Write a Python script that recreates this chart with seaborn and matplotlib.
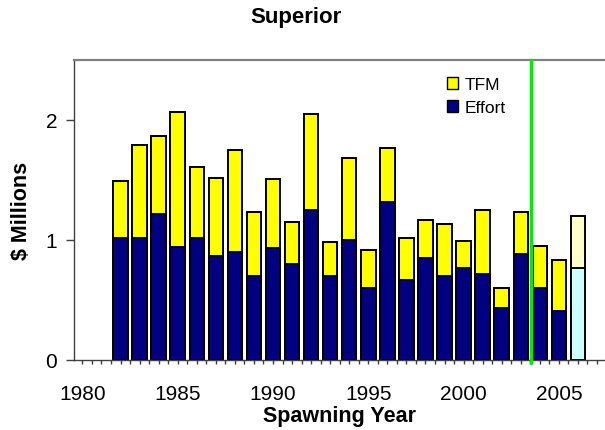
import matplotlib
matplotlib.use("Agg")
import matplotlib.pyplot as plt
from matplotlib.patches import Patch
from matplotlib.ticker import MultipleLocator
import pandas as pd
import seaborn as sns

# values ($ millions)
years = list(range(1982, 2007))
effort = [1.02, 1.02, 1.22, 0.94, 1.02, 0.87, 0.90, 0.70, 0.93, 0.80,
          1.25, 0.70, 1.00, 0.60, 1.32, 0.67, 0.85, 0.70, 0.77, 0.72,
          0.43, 0.88, 0.60, 0.41, 0.77]
tfm = [0.47, 0.77, 0.65, 1.13, 0.59, 0.65, 0.85, 0.53, 0.58, 0.35,
       0.80, 0.28, 0.68, 0.32, 0.45, 0.35, 0.32, 0.43, 0.22, 0.53,
       0.17, 0.35, 0.35, 0.42, 0.43]
status = ["actual"] * 24 + ["projected"]
cutoff_year = 2003.56

df = pd.DataFrame({"year": years, "effort": effort, "tfm": tfm, "status": status})
df["total"] = df["effort"] + df["tfm"]

sns.set_style("white")
plt.rcParams["font.family"] = ["Liberation Sans", "DejaVu Sans"]
plt.rcParams["text.color"] = "black"
plt.rcParams["axes.labelcolor"] = "black"
plt.rcParams["xtick.labelcolor"] = "black"
plt.rcParams["ytick.labelcolor"] = "black"

fig = plt.figure(figsize=(6.05, 4.31), dpi=100)
ax = fig.add_axes([74 / 605, 1 - 361 / 431, 531 / 605, 300 / 431])

# TFM stacked on top of effort: draw totals first, then effort over them
sns.barplot(data=df, x="year", y="total", hue="status", dodge=False,
            native_scale=True, width=0.76, legend=False, saturation=1,
            palette={"actual": "#ffff00", "projected": "#ffffcc"},
            edgecolor="black", linewidth=1.4, ax=ax)
sns.barplot(data=df, x="year", y="effort", hue="status", dodge=False,
            native_scale=True, width=0.76, legend=False, saturation=1,
            palette={"actual": "#000080", "projected": "#ccffff"},
            edgecolor="black", linewidth=1.4, ax=ax)

ax.axvline(cutoff_year, color="#00ee00", lw=2.5, ymin=-0.01, clip_on=False, zorder=5)

ax.set_xlim(1979.56, 2007.42)
ax.set_ylim(0, 2.5)
ax.set_yticks([0, 1, 2])
ax.xaxis.set_major_locator(MultipleLocator(5))
ax.xaxis.set_minor_locator(MultipleLocator(0.5))
ax.tick_params(axis="x", which="both", bottom=True, length=3, width=1,
               color="#404040", pad=14, labelsize=15)
ax.tick_params(axis="y", left=True, length=6, width=1, color="#404040",
               pad=6, labelsize=15)

for side in ["left", "bottom"]:
    ax.spines[side].set_color("#404040")
    ax.spines[side].set_linewidth(1)
ax.spines["top"].set_color("#808080")
ax.spines["top"].set_linewidth(1.6)
ax.spines["right"].set_visible(False)

ax.set_xlabel("Spawning Year", fontsize=15.5, fontweight="bold", labelpad=2)
ax.set_ylabel("$ Millions", fontsize=15.5, fontweight="bold", labelpad=10)
fig.suptitle("Superior", x=296 / 605, y=1 - 7 / 431, va="top",
             fontsize=16, fontweight="bold")

handles = [Patch(facecolor="#ffff00", edgecolor="black", label="TFM"),
           Patch(facecolor="#000080", edgecolor="black", label="Effort")]
fig.legend(handles=handles, loc="upper left", bbox_to_anchor=(447 / 605, 1 - 78 / 431),
           frameon=False, fontsize=12.5, handlelength=0.65, handleheight=0.65,
           handletextpad=0.35, labelspacing=0.45, borderpad=0, borderaxespad=0)

fig.savefig("out.png", dpi=100)
